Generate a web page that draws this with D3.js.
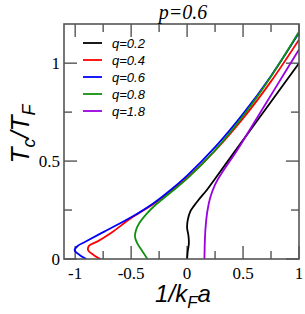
<!DOCTYPE html>
<html><head><meta charset="utf-8">
<script src="https://cdn.jsdelivr.net/npm/d3@7"></script>
<style>body{margin:0;background:#fff}</style>
</head><body>
<svg id="c" width="305" height="314"></svg>
<script>
const seriesNames = ["q=0.2","q=0.4","q=0.6","q=0.8","q=1.8"];
const seriesColors = ["#000000","#ff0000","#0000ff","#109010","#9a00e0"];
// points as [1/kFa, Tc/TF]
const q02 = [[0,0],[0.006,0.04],[0.016,0.08],[0.012,0.12],[0,0.16],[0.006,0.20],[0.03,0.245],[0.06,0.27],[0.10,0.30],[0.18,0.355],[0.25,0.41],[0.5,0.607],[0.75,0.803],[1.0,1.0]];
const q04 = [[-0.775,0],[-0.83,0.018],[-0.885,0.046],[-0.875,0.068],[-0.80,0.09],[-0.68,0.133],[-0.49,0.213],[-0.30,0.281],[-0.15,0.344],[0,0.415],[0.25,0.554],[0.5,0.718],[0.75,0.907],[1.0,1.12]];
const q06 = [[-0.90,0],[-0.955,0.018],[-1.005,0.045],[-0.975,0.068],[-0.91,0.088],[-0.74,0.14],[-0.50,0.213],[-0.30,0.285],[-0.15,0.351],[0,0.426],[0.25,0.571],[0.5,0.741],[0.75,0.935],[1.0,1.155]];
const q08 = [[-0.355,0],[-0.40,0.04],[-0.445,0.08],[-0.466,0.114],[-0.455,0.15],[-0.425,0.185],[-0.36,0.232],[-0.29,0.272],[-0.15,0.338],[0,0.41],[0.25,0.555],[0.5,0.73],[0.75,0.932],[1.0,1.16]];
const q18 = [[0.155,0],[0.158,0.08],[0.165,0.16],[0.18,0.24],[0.205,0.31],[0.25,0.38],[0.30,0.43],[0.37,0.49],[0.45,0.558],[0.56,0.66],[0.78,0.865],[1.0,1.07]];
const seriesData = [q02,q04,q06,q08,q18];
const xTicks = [-1,-0.75,-0.5,-0.25,0,0.25,0.5,0.75,1];
const xLabels = [-1,-0.5,0,0.5,1];
const yTicks = [0,0.25,0.5,0.75,1];
const yLabels = [0,0.5,1];

const svg = d3.select("#c");
const L=64,R=299,T=24,B=259;
const x = d3.scaleLinear().domain([-1.1,1]).range([L,R]);
const y = d3.scaleLinear().domain([0,1.2]).range([B,T]);

svg.append("defs").append("clipPath").attr("id","clip")
  .append("rect").attr("x",L).attr("y",T).attr("width",R-L).attr("height",B-T);

const fmt = v => String(v);
const axCol="#555";
const g = svg.append("g").attr("stroke",axCol).attr("stroke-width",1.4);
xTicks.forEach(v=>{
  const len = xLabels.includes(v)?13:8;
  g.append("line").attr("x1",x(v)).attr("x2",x(v)).attr("y1",B).attr("y2",B-len);
  g.append("line").attr("x1",x(v)).attr("x2",x(v)).attr("y1",T).attr("y2",T+len);
});
yTicks.forEach(v=>{
  const len = yLabels.includes(v)?13:8;
  g.append("line").attr("x1",L).attr("x2",L+len).attr("y1",y(v)).attr("y2",y(v));
  g.append("line").attr("x1",R).attr("x2",R-len).attr("y1",y(v)).attr("y2",y(v));
});

const line = d3.line().x(d=>x(d[0])).y(d=>y(d[1])).curve(d3.curveCatmullRom.alpha(0.5));
const cg = svg.append("g").attr("clip-path","url(#clip)");
seriesData.forEach((d,i)=>{
  cg.append("path").attr("d",line(d)).attr("fill","none")
    .attr("stroke",seriesColors[i]).attr("stroke-width",1.8);
});

svg.append("rect").attr("x",L).attr("y",T).attr("width",R-L).attr("height",B-T)
  .attr("fill","none").attr("stroke",axCol).attr("stroke-width",1.6);

xLabels.forEach(v=>{
  svg.append("text").attr("x",x(v)).attr("y",279).attr("text-anchor","middle")
    .attr("font-family","Liberation Serif").attr("font-size",17).text(fmt(v));
});
yLabels.forEach(v=>{
  svg.append("text").attr("x",60).attr("y",y(v)+5.5).attr("text-anchor","end")
    .attr("font-family","Liberation Serif").attr("font-size",17).text(fmt(v));
});

svg.append("text").attr("x",183).attr("y",19).attr("text-anchor","middle")
  .attr("font-family","Liberation Serif").attr("font-style","italic").attr("font-size",20).text("p=0.6");

const xl = svg.append("text").attr("x",183).attr("y",302).attr("text-anchor","middle")
  .attr("font-family","Liberation Sans").attr("font-style","italic").attr("font-size",24);
xl.append("tspan").text("1/k");
xl.append("tspan").attr("font-size",17).attr("dy",6).text("F");
xl.append("tspan").attr("dy",-6).text("a");

const yl = svg.append("text").attr("transform","translate(29,134) rotate(-90)").attr("text-anchor","middle")
  .attr("font-family","Liberation Sans").attr("font-style","italic").attr("font-size",26);
yl.append("tspan").text("T");
yl.append("tspan").attr("font-size",18).attr("dy",6).text("c");
yl.append("tspan").attr("dy",-6).text("/T");
yl.append("tspan").attr("font-size",18).attr("dy",6).text("F");

seriesNames.forEach((n,i)=>{
  const yy = 43 + i*17;
  svg.append("line").attr("x1",83).attr("x2",102).attr("y1",yy).attr("y2",yy)
    .attr("stroke",seriesColors[i]).attr("stroke-width",1.8);
  svg.append("text").attr("x",112).attr("y",yy+4.5)
    .attr("font-family","Liberation Sans").attr("font-style","italic").attr("font-size",13).text(n);
});
</script>
</body></html>
